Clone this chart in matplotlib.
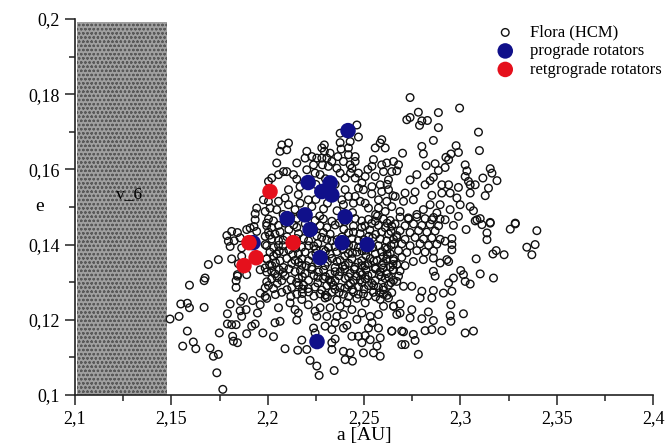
import matplotlib
matplotlib.use("Agg")
import matplotlib.pyplot as plt
from matplotlib.patches import Rectangle
import numpy as np

plt.rcParams['font.family'] = ['Liberation Serif', 'DejaVu Serif']
plt.rcParams['hatch.linewidth'] = 0.6

# ---------------- data ----------------
x_ticks = [2.1, 2.15, 2.2, 2.25, 2.3, 2.35, 2.4]
x_tick_labels = ["2,1", "2,15", "2,2", "2,25", "2,3", "2,35", "2,4"]
y_ticks = [0.1, 0.12, 0.14, 0.16, 0.18, 0.2]
y_tick_labels = ["0,1", "0,12", "0,14", "0,16", "0,18", "0,2"]

# nu_6 resonance zone (a range, e range)
nu6_a = [2.101, 2.1478]
nu6_e = [0.1, 0.1992]

prograde = [
    (2.2417, 0.1703), (2.2210, 0.1565), (2.2324, 0.1564), (2.2281, 0.1541),
    (2.2333, 0.1532), (2.2101, 0.1469), (2.2194, 0.1479), (2.2402, 0.1474),
    (2.2220, 0.1440), (2.2386, 0.1405), (2.2516, 0.1400), (2.2272, 0.1365),
    (2.2256, 0.1142), (2.1924, 0.1405),
]
retrograde = [
    (2.2012, 0.1541), (2.1903, 0.1405), (2.2132, 0.1405), (2.1940, 0.1365),
    (2.1877, 0.1344),
]

flora_upper_right = [
    (2.2739, 0.1791), (2.2996, 0.1763), (2.2782, 0.1752), (2.2886, 0.1751),
    (2.2722, 0.1732), (2.2739, 0.1738), (2.2800, 0.1729), (2.2829, 0.1730),
    (2.2788, 0.1717), (2.2886, 0.1711), (2.3094, 0.1699), (2.2860, 0.1677),
    (2.2800, 0.1661), (2.2808, 0.1641), (2.2700, 0.1643), (2.2978, 0.1663),
    (2.2990, 0.1645), (2.3099, 0.1650), (2.2951, 0.1641), (2.2925, 0.1632),
    (2.2939, 0.1626), (2.3025, 0.1612), (2.2822, 0.1610), (2.2869, 0.1615),
    (2.2886, 0.1597), (2.2921, 0.1605), (2.3034, 0.1596), (2.3025, 0.1581),
    (2.3155, 0.1602), (2.3164, 0.1590), (2.3190, 0.1570), (2.3117, 0.1577),
    (2.3042, 0.1568), (2.3051, 0.1559), (2.3077, 0.1559), (2.2843, 0.1570),
    (2.2860, 0.1579), (2.2774, 0.1586), (2.2739, 0.1572), (2.2670, 0.1596),
    (2.2653, 0.1621), (2.2679, 0.1612), (2.2904, 0.1559), (2.2939, 0.1559),
    (2.2817, 0.1559), (2.3146, 0.1550), (2.3129, 0.1530), (2.3051, 0.1537),
    (2.2990, 0.1552), (2.2947, 0.1537), (2.2904, 0.1537), (2.2852, 0.1531),
    (2.2982, 0.1524), (2.2999, 0.1506), (2.3051, 0.1501), (2.3068, 0.1490),
    (2.2713, 0.1537), (2.2765, 0.1540), (2.2756, 0.1519), (2.2705, 0.1515),
    (2.2662, 0.1528), (2.2843, 0.1506), (2.2895, 0.1506), (2.2947, 0.1493),
    (2.2878, 0.1484), (2.2808, 0.1493), (2.2774, 0.1480), (2.2687, 0.1488),
    (2.2730, 0.1471), (2.2990, 0.1475), (2.3086, 0.1466), (2.3155, 0.1459),
    (2.3285, 0.1457), (2.2852, 0.1466), (2.2921, 0.1466),
]

flora_right = [
    (2.3397, 0.1437), (2.3285, 0.1455), (2.3259, 0.1441), (2.3155, 0.1457),
    (2.3138, 0.1431), (2.3138, 0.1413), (2.3077, 0.1463), (2.3103, 0.1469),
    (2.3112, 0.1453), (2.3030, 0.1440), (2.2964, 0.1451), (2.3388, 0.1400),
    (2.3345, 0.1393), (2.3371, 0.1373), (2.3227, 0.1373), (2.3186, 0.1384),
    (2.3169, 0.1375), (2.3082, 0.1362), (2.2956, 0.1416), (2.2956, 0.1400),
    (2.2956, 0.1386), (2.2921, 0.1409), (2.2930, 0.1360), (2.2939, 0.1355),
    (2.2895, 0.1351), (2.2860, 0.1364), (2.2808, 0.1360), (2.2756, 0.1355),
    (2.3103, 0.1322), (2.3172, 0.1311), (2.3002, 0.1331), (2.3016, 0.1320),
    (2.3025, 0.1302), (2.3051, 0.1295), (2.2964, 0.1311), (2.2939, 0.1298),
    (2.2860, 0.1329), (2.2869, 0.1316), (2.2956, 0.1276), (2.2912, 0.1271),
    (2.2860, 0.1278), (2.2852, 0.1258), (2.2800, 0.1276), (2.2791, 0.1258),
    (2.2748, 0.1289), (2.2670, 0.1302), (2.2705, 0.1289), (2.2951, 0.1240),
    (2.3016, 0.1216), (2.2947, 0.1211), (2.2951, 0.1196), (2.2834, 0.1221),
    (2.2860, 0.1198), (2.2800, 0.1203), (2.2739, 0.1205), (2.2748, 0.1227),
    (2.2687, 0.1242), (2.2653, 0.1236), (2.2670, 0.1214), (2.2852, 0.1174),
    (2.2904, 0.1171), (2.2817, 0.1171), (2.3025, 0.1165), (2.3068, 0.1170),
    (2.2705, 0.1168), (2.2644, 0.1170), (2.2756, 0.1161), (2.2765, 0.1145),
    (2.2713, 0.1134), (2.2782, 0.1108),
]

flora_right_dense = [
    (2.2687, 0.1473), (2.2731, 0.1468), (2.2774, 0.1473), (2.2817, 0.1469),
    (2.2861, 0.1472), (2.2895, 0.1468), (2.2661, 0.1455), (2.2713, 0.1450),
    (2.2757, 0.1455), (2.2800, 0.1451), (2.2843, 0.1454), (2.2887, 0.1450),
    (2.2687, 0.1437), (2.2739, 0.1432), (2.2783, 0.1437), (2.2826, 0.1433),
    (2.2869, 0.1436), (2.2670, 0.1419), (2.2713, 0.1414), (2.2765, 0.1419),
    (2.2809, 0.1415), (2.2852, 0.1418), (2.2895, 0.1414), (2.2696, 0.1402),
    (2.2739, 0.1397), (2.2791, 0.1402), (2.2835, 0.1398), (2.2878, 0.1401),
    (2.2679, 0.1384), (2.2722, 0.1379), (2.2774, 0.1384), (2.2817, 0.1380),
    (2.2861, 0.1383), (2.2696, 0.1366), (2.2653, 0.1362), (2.2670, 0.1347),
    (2.2713, 0.1344), (2.2653, 0.1333), (2.2687, 0.1330), (2.2679, 0.1316),
]

flora_bottom = [
    (2.2038, 0.1192), (2.2064, 0.1196), (2.2056, 0.1232), (2.2151, 0.1199),
    (2.2030, 0.1155), (2.2090, 0.1123), (2.2156, 0.1119), (2.2177, 0.1146),
    (2.2203, 0.1121), (2.2220, 0.1092), (2.2255, 0.1077), (2.2267, 0.1052),
    (2.2345, 0.1065), (2.2333, 0.1121), (2.2333, 0.1139), (2.2350, 0.1149),
    (2.2393, 0.1116), (2.2402, 0.1094), (2.2428, 0.1112), (2.2440, 0.1090),
    (2.2497, 0.1112), (2.2549, 0.1112), (2.2584, 0.1103), (2.2567, 0.1130),
    (2.2489, 0.1139), (2.2532, 0.1147), (2.2584, 0.1152), (2.2437, 0.1156),
    (2.2471, 0.1156), (2.2506, 0.1158), (2.2393, 0.1178), (2.2411, 0.1185),
    (2.2463, 0.1201), (2.2575, 0.1178), (2.2523, 0.1178), (2.2644, 0.1170),
    (2.2696, 0.1170), (2.2696, 0.1134), (2.2653, 0.1236), (2.2687, 0.1218),
    (2.2541, 0.1192), (2.2246, 0.1165), (2.2238, 0.1178), (2.2255, 0.1209),
    (2.2307, 0.1209), (2.2350, 0.1192), (2.2359, 0.1209), (2.2393, 0.1214),
    (2.2298, 0.1183), (2.2333, 0.1174), (2.2272, 0.1232), (2.2324, 0.1232),
    (2.2376, 0.1236), (2.2437, 0.1227), (2.2489, 0.1218), (2.2532, 0.1209),
    (2.2575, 0.1214), (2.2506, 0.1245), (2.2142, 0.1227), (2.2159, 0.1218),
    (2.2116, 0.1245), (2.2211, 0.1240), (2.2246, 0.1223), (2.2411, 0.1245),
    (2.2601, 0.1236),
]

flora_left_bottom = [
    (2.1594, 0.1292), (2.1670, 0.1304), (2.1549, 0.1242), (2.1583, 0.1244),
    (2.1594, 0.1232), (2.1670, 0.1233), (2.1540, 0.1209), (2.1493, 0.1202),
    (2.1583, 0.1170), (2.1559, 0.1130), (2.1614, 0.1141), (2.1627, 0.1123),
    (2.1701, 0.1125), (2.1718, 0.1103), (2.1744, 0.1108), (2.1749, 0.1165),
    (2.1736, 0.1059), (2.1767, 0.1015), (2.1805, 0.1242), (2.1860, 0.1249),
    (2.1874, 0.1260), (2.1922, 0.1251), (2.1857, 0.1224), (2.1888, 0.1227),
    (2.1791, 0.1216), (2.1791, 0.1189), (2.1813, 0.1187), (2.1836, 0.1187),
    (2.1865, 0.1209), (2.1947, 0.1218), (2.1917, 0.1183), (2.1935, 0.1189),
    (2.1818, 0.1156), (2.1843, 0.1139), (2.1822, 0.1143), (2.1891, 0.1163),
    (2.1975, 0.1165), (2.1836, 0.1304), (2.1836, 0.1286), (2.1843, 0.1316),
    (2.1961, 0.1271), (2.1987, 0.1262), (2.1995, 0.1301), (2.1987, 0.1285),
    (2.1961, 0.1240),
]

flora_left_mid = [
    (2.1943, 0.1497), (2.1987, 0.1488), (2.1935, 0.1482), (2.1935, 0.1466),
    (2.1929, 0.1448), (2.1995, 0.1457), (2.1978, 0.1519), (2.1891, 0.1440),
    (2.1909, 0.1444), (2.1943, 0.1435), (2.1813, 0.1435), (2.1843, 0.1432),
    (2.1788, 0.1424), (2.1796, 0.1409), (2.1826, 0.1410), (2.1805, 0.1395),
    (2.1857, 0.1418), (2.1987, 0.1422), (2.1987, 0.1400), (2.1865, 0.1391),
    (2.1865, 0.1369), (2.1813, 0.1362), (2.1744, 0.1360), (2.1692, 0.1347),
    (2.1848, 0.1349), (2.1995, 0.1362), (2.1961, 0.1333), (2.1987, 0.1338),
    (2.1891, 0.1320), (2.1843, 0.1320), (2.1675, 0.1311),
]

flora_top = [
    (2.2463, 0.1718), (2.2471, 0.1686), (2.2428, 0.1674), (2.2376, 0.1696),
    (2.2592, 0.1679), (2.2584, 0.1670), (2.2558, 0.1657), (2.2610, 0.1657),
    (2.2376, 0.1671), (2.2381, 0.1654), (2.2419, 0.1657), (2.2419, 0.1639),
    (2.2454, 0.1634), (2.2364, 0.1634), (2.2294, 0.1665), (2.2294, 0.1648),
    (2.2281, 0.1657), (2.2324, 0.1643), (2.2307, 0.1630), (2.2333, 0.1621),
    (2.2281, 0.1630), (2.2255, 0.1630), (2.2229, 0.1634), (2.2203, 0.1648),
    (2.2194, 0.1630), (2.2238, 0.1612), (2.2284, 0.1612), (2.2315, 0.1608),
    (2.2359, 0.1603), (2.2393, 0.1621), (2.2428, 0.1612), (2.2437, 0.1603),
    (2.2454, 0.1621), (2.2549, 0.1626), (2.2541, 0.1608), (2.2592, 0.1612),
    (2.2618, 0.1617), (2.2151, 0.1617), (2.2108, 0.1670), (2.2073, 0.1665),
    (2.2064, 0.1648), (2.2099, 0.1652), (2.2047, 0.1617), (2.2082, 0.1594),
    (2.2099, 0.1594), (2.2134, 0.1586), (2.2151, 0.1574), (2.2203, 0.1599),
    (2.2246, 0.1590), (2.2272, 0.1586), (2.2402, 0.1577), (2.2376, 0.1590),
    (2.2454, 0.1577), (2.2471, 0.1590), (2.2506, 0.1581), (2.2558, 0.1581),
    (2.2601, 0.1594), (2.2644, 0.1594), (2.2627, 0.1572), (2.2489, 0.1564),
    (2.2471, 0.1550), (2.2497, 0.1546), (2.2541, 0.1554), (2.2584, 0.1559),
    (2.2592, 0.1541), (2.2627, 0.1546), (2.2402, 0.1546), (2.2419, 0.1528),
    (2.2454, 0.1528), (2.2445, 0.1510), (2.2480, 0.1515), (2.2506, 0.1510),
    (2.2523, 0.1497), (2.2575, 0.1519), (2.2575, 0.1497), (2.2618, 0.1515),
    (2.2644, 0.1501), (2.2393, 0.1506), (2.2385, 0.1519), (2.2108, 0.1546),
    (2.2168, 0.1554), (2.2159, 0.1533), (2.2090, 0.1524), (2.2056, 0.1515),
    (2.2108, 0.1506), (2.2004, 0.1515), (2.2047, 0.1493), (2.2012, 0.1497),
    (2.2142, 0.1493), (2.2229, 0.1501), (2.2211, 0.1519), (2.2168, 0.1510),
    (2.2056, 0.1586), (2.2004, 0.1568), (2.2021, 0.1577),
    (2.2250, 0.1560), (2.2300, 0.1575), (2.2350, 0.1560), (2.2430, 0.1590),
    (2.2520, 0.1600), (2.2360, 0.1490), (2.2440, 0.1485), (2.2560, 0.1480),
    (2.2610, 0.1488), (2.2290, 0.1495), (2.2170, 0.1480), (2.2080, 0.1480),
    (2.2250, 0.1520), (2.2310, 0.1510), (2.2540, 0.1535), (2.2650, 0.1530),
    (2.2620, 0.1560),
]

flora_core = [
    (2.2004, 0.1468), (2.2030, 0.1463), (2.2151, 0.1469), (2.2246, 0.1464),
    (2.2289, 0.1468), (2.2333, 0.1462), (2.2454, 0.1469), (2.2488, 0.1463),
    (2.2523, 0.1467), (2.2558, 0.1462), (2.2601, 0.1468), (2.2636, 0.1464),
    (2.1995, 0.1450), (2.2021, 0.1445), (2.2056, 0.1451), (2.2151, 0.1446),
    (2.2272, 0.1450), (2.2307, 0.1445), (2.2445, 0.1449), (2.2488, 0.1446),
    (2.2575, 0.1451), (2.2610, 0.1445), (2.2644, 0.1449),
    (2.2004, 0.1433), (2.2038, 0.1428), (2.2064, 0.1434), (2.2160, 0.1429),
    (2.2289, 0.1432), (2.2324, 0.1428), (2.2445, 0.1433), (2.2480, 0.1429),
    (2.2592, 0.1434), (2.2627, 0.1428),
    (2.2021, 0.1415), (2.2056, 0.1411), (2.2186, 0.1416), (2.2212, 0.1410),
    (2.2307, 0.1414), (2.2333, 0.1410), (2.2437, 0.1416), (2.2471, 0.1411),
    (2.2584, 0.1415), (2.2618, 0.1410), (2.2653, 0.1414),
    (2.1995, 0.1397), (2.2030, 0.1392), (2.2056, 0.1398), (2.2177, 0.1393),
    (2.2212, 0.1397), (2.2315, 0.1392), (2.2445, 0.1398), (2.2471, 0.1393),
    (2.2575, 0.1397), (2.2610, 0.1392),
    (2.2012, 0.1380), (2.2047, 0.1375), (2.2082, 0.1381), (2.2160, 0.1376),
    (2.2194, 0.1380), (2.2324, 0.1375), (2.2359, 0.1381), (2.2419, 0.1376),
    (2.2463, 0.1380), (2.2558, 0.1375), (2.2592, 0.1381), (2.2636, 0.1376),
    (2.1995, 0.1362), (2.2064, 0.1357), (2.2099, 0.1363), (2.2142, 0.1358),
    (2.2177, 0.1362), (2.2212, 0.1357), (2.2333, 0.1363), (2.2376, 0.1358),
    (2.2437, 0.1362), (2.2488, 0.1357), (2.2532, 0.1363), (2.2567, 0.1358),
    (2.2618, 0.1362), (2.2653, 0.1357),
    (2.2021, 0.1344), (2.2082, 0.1339), (2.2177, 0.1345), (2.2229, 0.1340),
    (2.2298, 0.1344), (2.2350, 0.1339), (2.2402, 0.1345), (2.2454, 0.1340),
    (2.2506, 0.1344), (2.2558, 0.1339), (2.2592, 0.1345), (2.2636, 0.1340),
    (2.1995, 0.1327), (2.2038, 0.1322), (2.2142, 0.1328), (2.2194, 0.1323),
    (2.2263, 0.1327), (2.2324, 0.1322), (2.2376, 0.1328), (2.2428, 0.1323),
    (2.2480, 0.1327), (2.2541, 0.1322), (2.2584, 0.1328), (2.2618, 0.1323),
    (2.2021, 0.1309), (2.2073, 0.1304), (2.2160, 0.1310), (2.2212, 0.1305),
    (2.2289, 0.1309), (2.2350, 0.1304), (2.2402, 0.1310), (2.2445, 0.1305),
    (2.2506, 0.1309), (2.2558, 0.1304), (2.2610, 0.1310), (2.2653, 0.1305),
    (2.2004, 0.1291), (2.2125, 0.1286), (2.2186, 0.1292), (2.2246, 0.1287),
    (2.2307, 0.1291), (2.2376, 0.1286), (2.2419, 0.1292), (2.2471, 0.1287),
    (2.2523, 0.1291), (2.2575, 0.1286), (2.2627, 0.1292),
    (2.2073, 0.1273), (2.2151, 0.1268), (2.2212, 0.1274), (2.2272, 0.1269),
    (2.2333, 0.1273), (2.2393, 0.1268), (2.2445, 0.1274), (2.2497, 0.1269),
    (2.2549, 0.1273), (2.2601, 0.1268), (2.2644, 0.1272),
    (2.1995, 0.1257), (2.2177, 0.1254), (2.2298, 0.1258), (2.2359, 0.1253),
    (2.2463, 0.1257), (2.2584, 0.1254), (2.2627, 0.1258),
]

flora_core_between = [
    (2.2090, 0.1457), (2.2195, 0.1455), (2.2372, 0.1458), (2.2540, 0.1456),
    (2.2110, 0.1440), (2.2240, 0.1438), (2.2395, 0.1441), (2.2530, 0.1439),
    (2.2100, 0.1421), (2.2255, 0.1423), (2.2385, 0.1420), (2.2525, 0.1422),
    (2.2670, 0.1424), (2.2120, 0.1405), (2.2260, 0.1403), (2.2410, 0.1404),
    (2.2520, 0.1406), (2.2655, 0.1402), (2.2110, 0.1386), (2.2250, 0.1388),
    (2.2290, 0.1386), (2.2390, 0.1387), (2.2510, 0.1385), (2.2620, 0.1388),
    (2.2030, 0.1369), (2.2230, 0.1371), (2.2280, 0.1368), (2.2400, 0.1370),
    (2.2510, 0.1371), (2.2600, 0.1368), (2.2040, 0.1352), (2.2125, 0.1350),
    (2.2260, 0.1351), (2.2310, 0.1353), (2.2420, 0.1350), (2.2470, 0.1352),
    (2.2520, 0.1349), (2.2600, 0.1352), (2.2060, 0.1333), (2.2110, 0.1335),
    (2.2230, 0.1334), (2.2290, 0.1332), (2.2400, 0.1335), (2.2510, 0.1333),
    (2.2560, 0.1335), (2.2650, 0.1332), (2.2090, 0.1317), (2.2180, 0.1315),
    (2.2240, 0.1318), (2.2300, 0.1315), (2.2370, 0.1317), (2.2460, 0.1316),
    (2.2520, 0.1318), (2.2590, 0.1315), (2.2050, 0.1297), (2.2150, 0.1299),
    (2.2260, 0.1298), (2.2330, 0.1300), (2.2430, 0.1297), (2.2490, 0.1299),
    (2.2540, 0.1297), (2.2640, 0.1299), (2.2100, 0.1280), (2.2180, 0.1282),
    (2.2280, 0.1279), (2.2350, 0.1281), (2.2440, 0.1280), (2.2500, 0.1282),
    (2.2600, 0.1279), (2.2120, 0.1262), (2.2240, 0.1263), (2.2310, 0.1261),
    (2.2420, 0.1262), (2.2520, 0.1263), (2.2560, 0.1261),
]

flora_core_extra = [
    (2.2120, 0.1474), (2.2270, 0.1476), (2.2400, 0.1461), (2.2570, 0.1476),
    (2.2620, 0.1457), (2.2010, 0.1425), (2.2135, 0.1452), (2.2230, 0.1447),
    (2.2350, 0.1452), (2.2420, 0.1431), (2.2505, 0.1450), (2.2560, 0.1427),
    (2.2080, 0.1412), (2.2150, 0.1416), (2.2280, 0.1419), (2.2360, 0.1413),
    (2.2500, 0.1413), (2.2545, 0.1418), (2.2640, 0.1435), (2.2080, 0.1397),
    (2.2145, 0.1390), (2.2240, 0.1396), (2.2350, 0.1395), (2.2420, 0.1398),
    (2.2545, 0.1392), (2.2640, 0.1398), (2.2060, 0.1383), (2.2130, 0.1374),
    (2.2250, 0.1377), (2.2300, 0.1382), (2.2440, 0.1377), (2.2490, 0.1383),
    (2.2620, 0.1374), (2.2010, 0.1346), (2.2160, 0.1353), (2.2200, 0.1344),
    (2.2360, 0.1355), (2.2390, 0.1342), (2.2490, 0.1344), (2.2550, 0.1356),
    (2.2650, 0.1347), (2.2020, 0.1330), (2.2080, 0.1326), (2.2170, 0.1331),
    (2.2350, 0.1328), (2.2450, 0.1334), (2.2490, 0.1320), (2.2600, 0.1338),
    (2.2050, 0.1312), (2.2120, 0.1306), (2.2260, 0.1313), (2.2320, 0.1306),
    (2.2420, 0.1314), (2.2480, 0.1306), (2.2580, 0.1319), (2.2630, 0.1312),
    (2.2030, 0.1283), (2.2160, 0.1292), (2.2210, 0.1283), (2.2340, 0.1292),
    (2.2400, 0.1284), (2.2550, 0.1291), (2.2600, 0.1286), (2.2040, 0.1267),
    (2.2180, 0.1270), (2.2300, 0.1266), (2.2370, 0.1272), (2.2470, 0.1268),
    (2.2580, 0.1272), (2.2620, 0.1265),
]

flora_groups = [flora_upper_right, flora_right, flora_right_dense, flora_bottom,
                flora_left_bottom, flora_left_mid, flora_top, flora_core,
                flora_core_between, flora_core_extra]

# ---------------- drawing ----------------
fig = plt.figure(figsize=(6.65, 4.45), dpi=100)
ax = fig.add_axes([0.1128, 0.1124, 0.8692, 0.845])

ax.add_patch(Rectangle((nu6_a[0], nu6_e[0]), nu6_a[1] - nu6_a[0], nu6_e[1] - nu6_e[0],
                       facecolor='#a0a0a0', edgecolor='#5a5a5a', hatch='oooo',
                       linewidth=0, zorder=1))
ax.text(2.128, 0.1533, "v_6", ha='center', va='center', fontsize=12.5,
        color='black', zorder=2)

fa = [p[0] for g in flora_groups for p in g]
fe = [p[1] for g in flora_groups for p in g]
ax.scatter(fa, fe, s=30, facecolors='none', edgecolors='#111111', linewidths=1.0,
           zorder=3, label='Flora (HCM)')
ax.scatter([p[0] for p in prograde], [p[1] for p in prograde], s=125,
           color='#10108a', edgecolors='none', zorder=4, label='prograde rotators')
ax.scatter([p[0] for p in retrograde], [p[1] for p in retrograde], s=125,
           color='#e5101c', edgecolors='none', zorder=5, label='retgrograde rotators')

ax.set_xlim(2.1, 2.4)
ax.set_ylim(0.1, 0.2)
ax.set_xticks(x_ticks)
ax.set_xticklabels(x_tick_labels)
ax.set_yticks(y_ticks)
ax.set_yticklabels(y_tick_labels)
ax.set_xticks([2.125, 2.175, 2.225, 2.275, 2.325, 2.375], minor=True)
ax.set_yticks([0.11, 0.13, 0.15, 0.17, 0.19], minor=True)
ax.tick_params(which='major', direction='out', length=7, width=1.1, labelsize=13,
               color='#222222', pad=4)
ax.tick_params(which='minor', direction='out', length=4, width=1.1, color='#222222')
for s in ['top', 'right']:
    ax.spines[s].set_visible(False)
for s in ['left', 'bottom']:
    ax.spines[s].set_linewidth(1.2)
    ax.spines[s].set_color('#222222')

ax.set_xlabel("a [AU]", fontsize=14, labelpad=0)
ax.set_ylabel("e", fontsize=14, rotation=0, va='center')
ax.yaxis.set_label_coords(-0.062, 0.5)

leg = ax.legend(loc='upper right', bbox_to_anchor=(0.998, 0.948),
                bbox_transform=fig.transFigure, frameon=False, fontsize=12,
                handletextpad=1.0, borderaxespad=0, borderpad=0.1,
                labelspacing=0.15, scatterpoints=1, handlelength=1.0)

fig.savefig("out.png", dpi=100)
